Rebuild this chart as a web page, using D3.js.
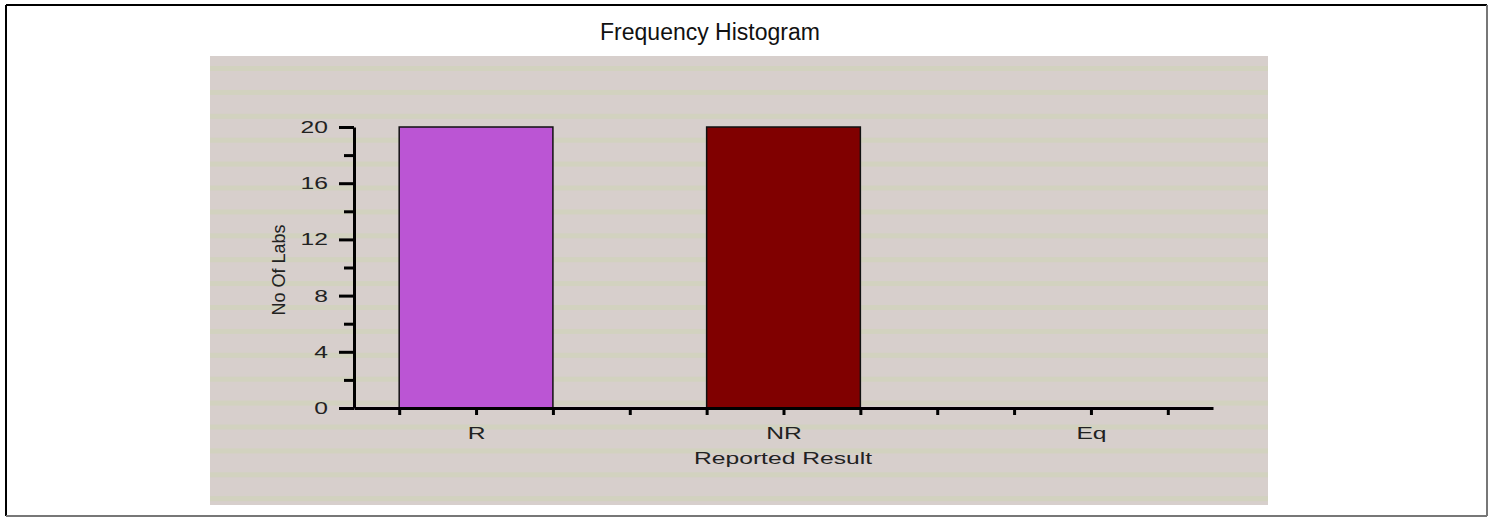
<!DOCTYPE html>
<html>
<head>
<meta charset="utf-8">
<script src="https://cdn.jsdelivr.net/npm/d3@7"></script>
<style>
  body { margin: 0; background: #fff; }
  svg { display: block; font-family: Arial, "Liberation Sans", sans-serif; }
</style>
</head>
<body>
<svg id="chart" width="1489" height="517"></svg>
<script>
const categories = ["R", "NR", "Eq"];
const labCounts = [20, 20, 0];
const barColors = ["#bb55d4", "#800000", "#4f81bd"];
const majorTicksY = [0, 4, 8, 12, 16, 20];
const minorTicksY = [2, 6, 10, 14, 18];

const svg = d3.select("#chart"),
  width = +svg.attr("width"),
  height = +svg.attr("height");

const stretch = 1.45; // panel text looks squashed wide in the original

// frame round the whole thing
svg.append("line").attr("x1", 6).attr("y1", 5).attr("x2", 1487).attr("y2", 5)
  .attr("stroke", "#000").attr("stroke-width", 2);
svg.append("line").attr("x1", 6).attr("y1", 5).attr("x2", 6).attr("y2", 516)
  .attr("stroke", "#000").attr("stroke-width", 2);
svg.append("line").attr("x1", 1487).attr("y1", 5).attr("x2", 1487).attr("y2", 516)
  .attr("stroke", "#777").attr("stroke-width", 2);
svg.append("line").attr("x1", 6).attr("y1", 516).attr("x2", 1487).attr("y2", 516)
  .attr("stroke", "#777").attr("stroke-width", 2);

svg.append("text")
  .attr("x", 710)
  .attr("y", 40)
  .attr("text-anchor", "middle")
  .style("font-size", "23px")
  .attr("fill", "#111")
  .text("Frequency Histogram");

// striped panel
const panel = { x: 210, y: 56, w: 1058, h: 449 };
svg.append("rect")
  .attr("x", panel.x).attr("y", panel.y)
  .attr("width", panel.w).attr("height", panel.h)
  .attr("fill", "#d7cfcc");

svg.append("g")
  .selectAll("rect")
  .data(d3.range(panel.y + 10, panel.y + panel.h, 23.9))
  .enter()
  .append("rect")
  .attr("x", panel.x)
  .attr("y", d => d)
  .attr("width", panel.w)
  .attr("height", d => Math.min(5, panel.y + panel.h - d))
  .attr("fill", "#d2d2bf");

const x = d3.scaleLinear().domain([-0.397, 2.397]).range([354, 1213]);
const y = d3.scaleLinear().domain([0, 20]).range([408, 127]);

// bars
svg.append("g")
  .selectAll("rect")
  .data(categories)
  .enter()
  .filter((d, i) => labCounts[i] > 0)
  .append("rect")
  .attr("x", d => x(categories.indexOf(d) - 0.25))
  .attr("y", d => y(labCounts[categories.indexOf(d)]))
  .attr("width", x(0.25) - x(-0.25))
  .attr("height", d => y(0) - y(labCounts[categories.indexOf(d)]))
  .attr("fill", d => barColors[categories.indexOf(d)])
  .attr("stroke", "#111")
  .attr("stroke-width", 1.5);

// y axis
const yAxis = svg.append("g")
  .attr("transform", "translate(354,0)")
  .call(d3.axisLeft(y).tickValues(majorTicksY).tickSize(15).tickPadding(10).tickSizeOuter(0));
yAxis.select(".domain").attr("stroke-width", 3).attr("stroke", "#000");
yAxis.selectAll(".tick line").attr("stroke-width", 3).attr("stroke", "#000");
yAxis.selectAll(".tick text")
  .style("font-size", "17px")
  .attr("fill", "#222")
  .attr("transform", `scale(${stretch},1)`)
  .attr("x", -26 / stretch);

const yMinor = svg.append("g")
  .attr("transform", "translate(354,0)")
  .call(d3.axisLeft(y).tickValues(minorTicksY).tickSize(10).tickFormat("").tickSizeOuter(0));
yMinor.select(".domain").remove();
yMinor.selectAll(".tick line").attr("stroke-width", 3).attr("stroke", "#000");

// x axis
const xTicks = d3.range(-1, 10).map(k => k * 0.25);
const xAxis = svg.append("g")
  .attr("transform", "translate(0,408)")
  .call(d3.axisBottom(x)
    .tickValues(xTicks)
    .tickSize(7)
    .tickSizeOuter(0)
    .tickPadding(12)
    .tickFormat(d => Number.isInteger(d) ? categories[d] : ""));
xAxis.select(".domain").attr("stroke-width", 3).attr("stroke", "#000");
xAxis.selectAll(".tick line").attr("stroke-width", 3).attr("stroke", "#000");
xAxis.selectAll(".tick text")
  .style("font-size", "17px")
  .attr("fill", "#222")
  .attr("transform", `scale(${stretch},1)`);

svg.append("text")
  .attr("transform", `translate(783,464) scale(${stretch},1)`)
  .attr("text-anchor", "middle")
  .style("font-size", "17px")
  .attr("fill", "#222")
  .text("Reported Result");

svg.append("text")
  .attr("transform", "translate(285,270) rotate(-90)")
  .attr("text-anchor", "middle")
  .style("font-size", "18px")
  .attr("fill", "#222")
  .text("No Of Labs");
</script>
</body>
</html>
